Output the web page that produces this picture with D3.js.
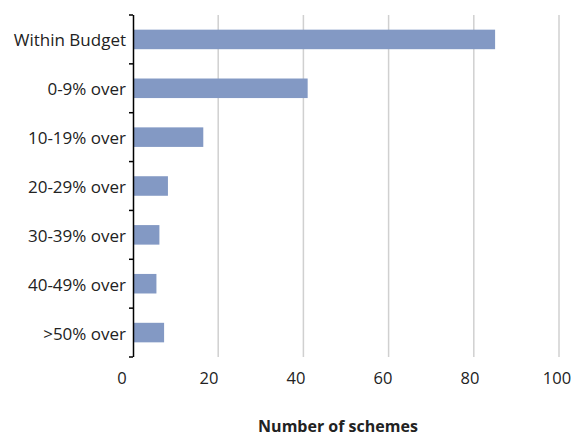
<!DOCTYPE html>
<html>
<head>
<meta charset="utf-8">
<script src="https://cdn.jsdelivr.net/npm/d3@7"></script>
<style>
  body { margin: 0; background: #fff; }
  text { font-family: "Open Sans", sans-serif; fill: #222; }
</style>
</head>
<body>
<div id="chart"></div>
<script>
const categories = ['Within Budget', '0-9% over', '10-19% over', '20-29% over', '30-39% over', '40-49% over', '>50% over'];
const schemes = [85, 41, 16.5, 8.2, 6.2, 5.5, 7.3];
const xTicks = [0, 20, 40, 60, 80, 100];
const xTitle = 'Number of schemes';

const Margin = { Top: 15, Left: 133, Right: 15, Bottom: 82 };
const Width = 559 - Margin.Left;
const Height = 357 - Margin.Top;

const svg = d3.select('#chart')
  .append('svg')
  .attr('width', 574)
  .attr('height', 439)
  .append('g')
  .attr('transform', `translate(${Margin.Left}, ${Margin.Top})`);

const x = d3.scaleLinear().domain([0, 100]).range([0, Width]);
const y = d3.scaleBand().domain(categories).range([0, Height]).paddingInner(0.6).paddingOuter(0.3);
const yTick = d3.scaleLinear().domain([0, categories.length]).range([0, Height]);

// gridlines
svg.selectAll('.grid')
  .data(xTicks.filter(d => d > 0))
  .enter()
  .append('line')
  .attr('x1', d => x(d))
  .attr('x2', d => x(d))
  .attr('y1', 0)
  .attr('y2', Height)
  .attr('stroke', '#d0d0d0')
  .attr('stroke-width', 1.5);

// x tick labels (Excel places them a bit left of the gridline)
svg.selectAll('.xlab')
  .data(xTicks)
  .enter()
  .append('text')
  .attr('x', d => x(d) - 11 + 9 * d / 100)
  .attr('y', Height + 27)
  .attr('text-anchor', 'middle')
  .style('font-size', '16.5px')
  .text(d => d);

// bars
svg.selectAll('rect')
  .data(categories)
  .enter()
  .append('rect')
  .attr('x', 0)
  .attr('y', d => y(d))
  .attr('width', (d, i) => x(schemes[i]))
  .attr('height', y.bandwidth())
  .attr('fill', '#8399c4');

// y axis
svg.append('line')
  .attr('x1', 0.5).attr('x2', 0.5)
  .attr('y1', 0).attr('y2', Height)
  .attr('stroke', '#000').attr('stroke-width', 1.5);

svg.selectAll('.ytick')
  .data(d3.range(categories.length + 1))
  .enter()
  .append('line')
  .attr('x1', -4).attr('x2', 0)
  .attr('y1', d => yTick(d)).attr('y2', d => yTick(d))
  .attr('stroke', '#000').attr('stroke-width', 1.5);

svg.selectAll('.ylab')
  .data(categories)
  .enter()
  .append('text')
  .attr('x', -7)
  .attr('y', d => y(d) + y.bandwidth() / 2 + 1)
  .attr('dy', '0.35em')
  .attr('text-anchor', 'end')
  .style('font-size', '17px')
  .text(d => d);

svg.append('text')
  .attr('x', 205)
  .attr('y', 417)
  .attr('text-anchor', 'middle')
  .style('font-size', '16px')
  .style('font-weight', 'bold')
  .text(xTitle);
</script>
</body>
</html>
